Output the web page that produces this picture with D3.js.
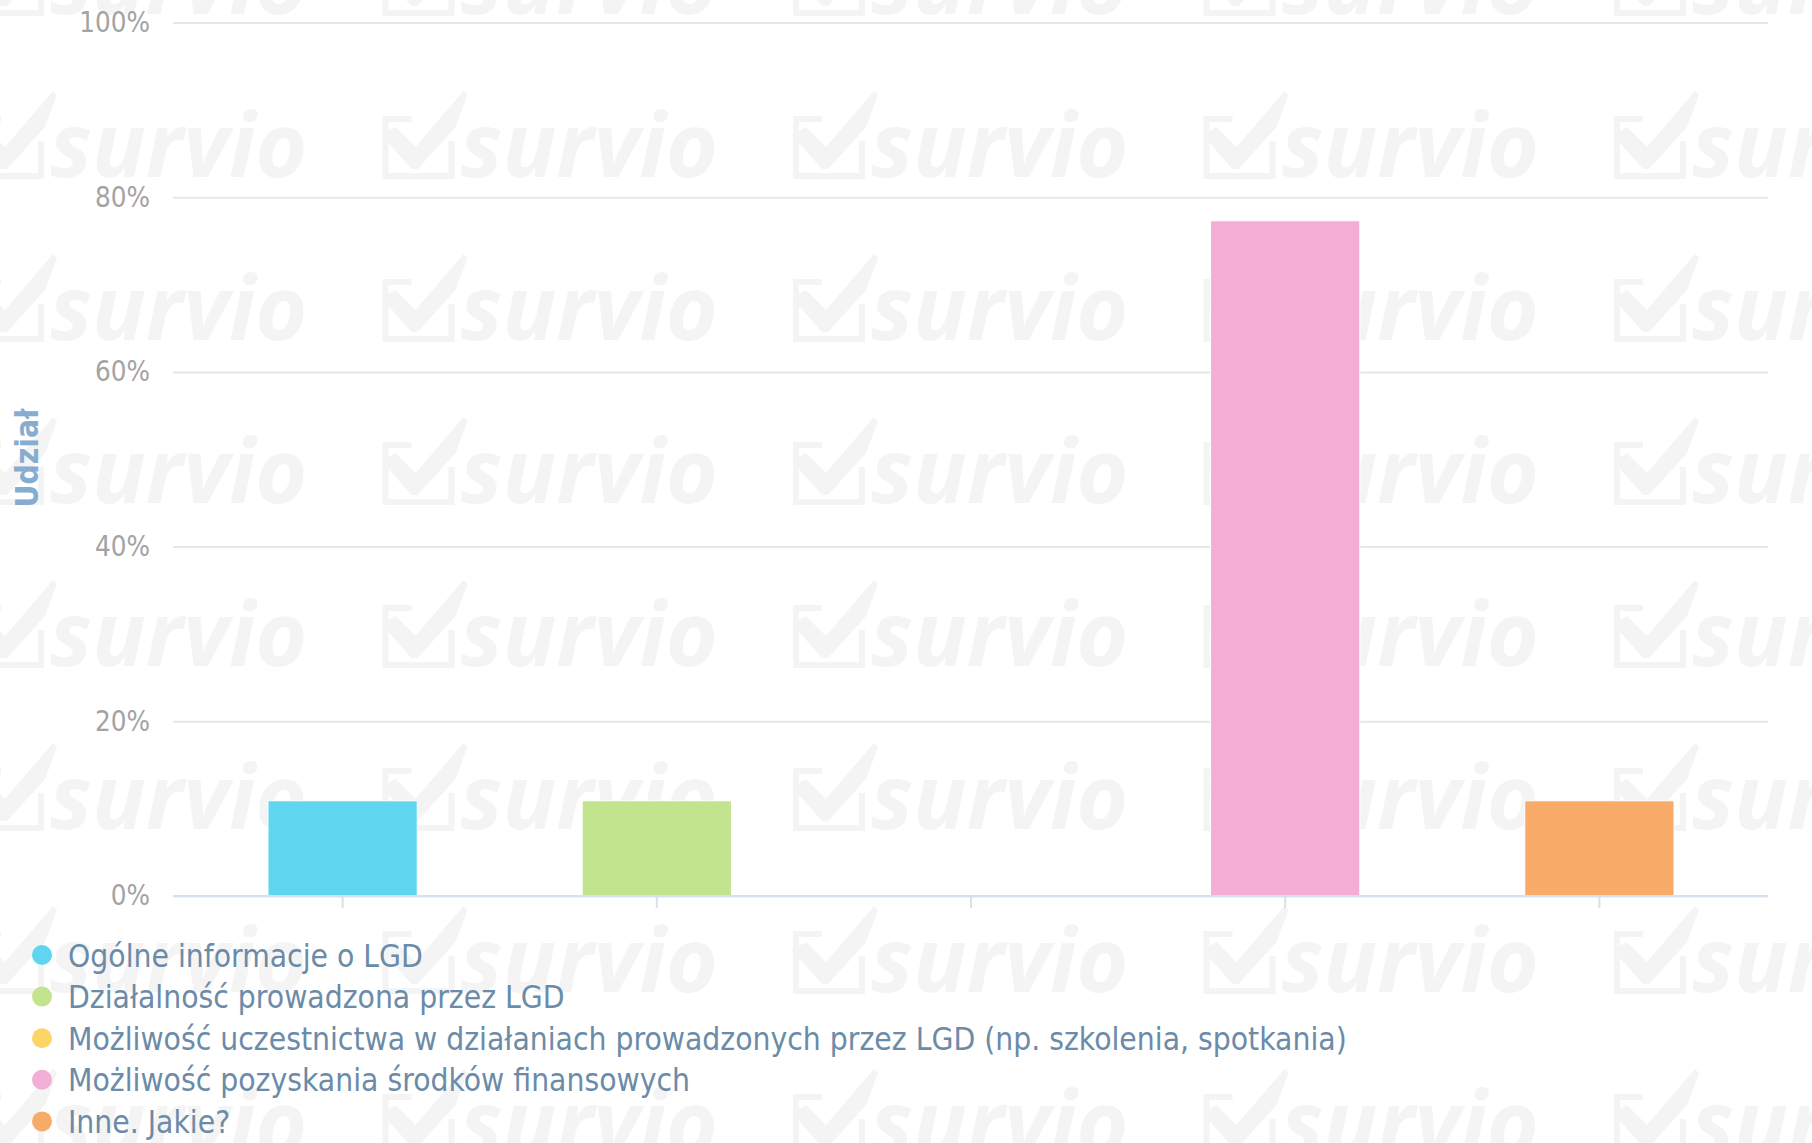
<!DOCTYPE html>
<html>
<head>
<meta charset="utf-8">
<script src="https://cdn.jsdelivr.net/npm/d3@7"></script>
<style>
  html, body { margin: 0; padding: 0; background: #ffffff; }
  svg { display: block; }
</style>
</head>
<body>
<svg id="chart" width="1812" height="1143"></svg>
<script>
// Answer categories, in axis order
const categories = [
  "Ogólne informacje o LGD",
  "Działalność prowadzona przez LGD",
  "Możliwość uczestnictwa w działaniach prowadzonych przez LGD (np. szkolenia, spotkania)",
  "Możliwość pozyskania środków finansowych",
  "Inne. Jakie?"
];
// Share of respondents per answer, in percent
const shares = [10.9, 10.9, 0, 77.3, 10.9];
// Series colours
const colors = ["#5fd5f0", "#c2e48f", "#fdd466", "#f3aed5", "#f8aa68"];
// Y axis ticks (percent)
const yTicks = [0, 20, 40, 60, 80, 100];
const yTitle = "Udział";

const svg = d3.select("#chart");
const plot = { left: 173, right: 1768, top: 22.5, bottom: 896 };

const x = d3.scaleBand()
  .domain(categories)
  .range([185.5, 1756.5])
  .paddingInner(0.525)
  .paddingOuter(0.2625);

const y = d3.scaleLinear()
  .domain([0, 100])
  .range([plot.bottom, plot.top]);

// Background watermark tiles
const wm = svg.append("g").attr("class", "watermark");
const wmColor = "#f4f4f4";
for (let r = 0; r < 8; r++) {
  for (let c = 0; c < 5; c++) {
    const L = -29 + 410.5 * c;
    const B = 14 + 163 * r;
    const t = wm.append("g").attr("transform", `translate(${L},${B})`);
    // box outline
    t.append("path")
      .attr("d", "M 30 -58 L 4 -58 L 4 -1 L 70 -1 L 70 -36")
      .attr("fill", "none")
      .attr("stroke", wmColor)
      .attr("stroke-width", 6);
    // check mark
    t.append("path")
      .attr("d", "M 0 -42 L 14 -50 L 34 -30 L 82 -86 L 86 -82 L 74 -50 L 36 -8 L 30 -8 Z")
      .attr("fill", wmColor);
    t.append("text")
      .attr("x", 79)
      .attr("y", 0)
      .attr("font-family", "'Open Sans', sans-serif")
      .attr("font-weight", 700)
      .attr("font-style", "italic")
      .attr("font-size", 89)
      .attr("fill", wmColor)
      .text("survio");
  }
}

// Y axis with gridlines
const yAxis = d3.axisLeft(y)
  .tickValues(yTicks)
  .tickFormat(d => d + "%")
  .tickSize(-(plot.right - plot.left))
  .tickPadding(23);

const gy = svg.append("g")
  .attr("transform", `translate(${plot.left},0)`)
  .call(yAxis);
gy.select(".domain").remove();
gy.selectAll(".tick line")
  .attr("stroke", "#e6e6e6")
  .attr("stroke-width", 2);
gy.selectAll(".tick text")
  .attr("fill", "#a3a3a3")
  .attr("font-family", "'DejaVu Sans Condensed', 'DejaVu Sans', sans-serif")
  .attr("font-size", 27.5);

// Y axis title
svg.append("text")
  .attr("transform", `translate(27,458) rotate(-90)`)
  .attr("text-anchor", "middle")
  .attr("dominant-baseline", "central")
  .attr("font-family", "'DejaVu Sans Condensed', 'DejaVu Sans', sans-serif")
  .attr("font-weight", 700)
  .attr("font-size", 31.5)
  .attr("fill", "#86add0")
  .text(yTitle);

// Bars
svg.append("g")
  .selectAll("rect")
  .data(categories)
  .join("rect")
  .attr("x", d => x(d))
  .attr("width", x.bandwidth())
  .attr("y", (d, i) => y(shares[i]))
  .attr("height", (d, i) => y(0) - y(shares[i]))
  .attr("fill", (d, i) => colors[i])
  .attr("stroke", "#ffffff")
  .attr("stroke-width", 1);

// X axis baseline and ticks
const xAxis = d3.axisBottom(x).tickSize(12).tickFormat("");
const gx = svg.append("g")
  .attr("transform", `translate(0,${plot.bottom})`)
  .call(xAxis);
gx.select(".domain")
  .attr("d", `M${plot.left},0H${plot.right}`)
  .attr("stroke", "#d6e0ee")
  .attr("stroke-width", 2);
gx.selectAll(".tick line")
  .attr("stroke", "#d6e0ee")
  .attr("stroke-width", 2);

// Legend
const legend = svg.append("g")
  .selectAll("g")
  .data(categories)
  .join("g")
  .attr("transform", (d, i) => `translate(0,${955 + 41.6 * i})`);
legend.append("circle")
  .attr("cx", 42)
  .attr("cy", 0)
  .attr("r", 10)
  .attr("fill", (d, i) => colors[i]);
legend.append("text")
  .attr("x", 68)
  .attr("y", 11.5)
  .attr("font-family", "'DejaVu Sans Condensed', 'DejaVu Sans', sans-serif")
  .attr("font-size", 31.5)
  .attr("fill", "#6b8ba8")
  .text(d => d);
</script>
</body>
</html>
